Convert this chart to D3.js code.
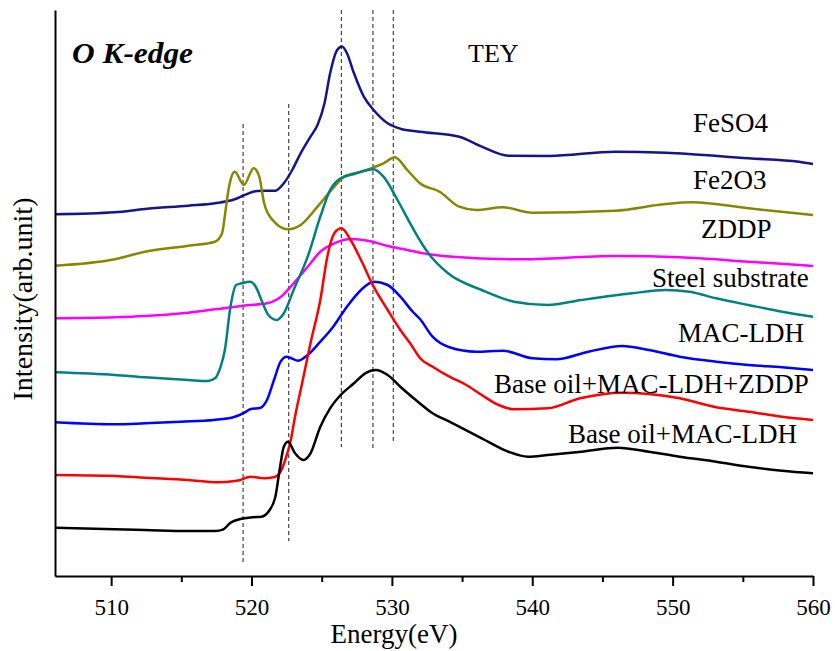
<!DOCTYPE html>
<meta charset="utf-8">
<style>
body { margin: 0; background: #fff; }
.line { fill: none; stroke-width: 2.5px; stroke-linejoin: round; }
.axis path, .axis line { stroke: #000; stroke-width: 2px; }
.lbl { font-family: "Liberation Serif", serif; font-size: 27px; fill: #000; }
</style>
<body>
<script src="https://d3js.org/d3.v7.min.js"></script>
<script>

// spectra: [energy (eV), intensity (arb. unit, stacked offset)]
var feso4 = [[506.0,361.7],[510.25,363.7],[512.4,367],[515.5,370.3],[517.4,372.7],[518.8,376.7],[519.5,381],[520.4,385],[521.7,385.3],[522.3,392.7],[522.9,406],[523.5,422.7],[524.2,439.3],[524.7,451],[525.2,472.7],[525.6,502.7],[526.1,526],[526.45,529.5],[526.8,522.7],[527.3,502.7],[528.0,479.3],[528.7,466],[529.7,452.7],[530.6,447.3],[532.0,444.3],[534.8,439.3],[536.4,429.3],[538.3,420.3],[541.2,420],[545.9,424.3],[549.5,423.3],[555.4,417.7],[559.0,414.3],[560.0,412]];

var fe2o3 = [[506.0,310.3],[510.25,316.7],[512.4,324.3],[515.5,330.3],[517.4,334.3],[517.9,342.7],[518.1,360],[518.25,376],[518.45,392.7],[518.8,404.3],[519.45,391],[520.15,407.7],[520.55,399.3],[520.9,372.7],[521.5,356],[522.6,346.7],[523.5,351],[524.7,369.3],[525.9,389.3],[526.6,399.3],[527.8,404.3],[528.7,408.7],[529.4,412.7],[530.2,418.7],[531.1,406],[532.0,392.7],[533.4,384.3],[534.8,369.3],[536.0,366],[537.9,368.7],[540.0,363.3],[545.9,365.3],[549.5,372],[551.4,373.7],[555.4,367.7],[560.0,361]];

var zddp = [[506.0,257.7],[510.25,258.7],[512.4,260],[515.5,263.3],[517.4,266.7],[519.7,270.7],[521.1,272.7],[522.1,279.3],[523.0,292.7],[524.0,309.3],[524.9,324.3],[525.9,332.7],[527.1,337],[528.3,335.3],[529.7,330],[531.1,326],[532.0,323.3],[534.3,319.3],[539.0,316.7],[545.9,320],[550.5,318.7],[555.4,314.3],[560.0,310]];

var steel = [[506.0,203.7],[510.25,201],[512.4,198.7],[515.5,196],[516.9,195],[517.4,197.7],[517.8,209.3],[518.1,226],[518.5,269.3],[518.9,291],[519.3,292.7],[519.9,294.3],[520.3,289.3],[520.8,272.7],[521.2,261],[521.8,256],[522.3,262.7],[523.0,286],[524.0,319.3],[524.9,359.3],[525.6,386],[526.35,397.7],[527.3,402],[528.3,406],[528.7,406.7],[529.4,399.3],[530.4,376],[531.3,352.7],[531.7,342.7],[532.6,322.7],[534.0,302.7],[536.4,286],[538.7,274.3],[541.1,271],[543.5,276],[547.1,282.7],[549.5,286],[551.2,284.3],[553.1,277.7],[555.4,271],[557.8,264.3],[560.0,259.3]];

var macldh = [[506.0,153.7],[510.25,151.7],[512.4,152.7],[514.95,154.3],[517.3,156],[518.7,158.7],[519.5,163.3],[519.9,166.7],[520.65,168.3],[521.1,176],[521.6,196],[522.07,214.3],[522.5,219.3],[523.3,215.3],[524.0,221],[524.9,234.3],[525.75,248],[526.8,269.3],[527.8,286],[528.7,294.3],[529.7,291],[530.6,279.3],[531.5,264],[532.0,257],[532.9,239.3],[534.1,228.7],[536.0,224.3],[537.9,225.3],[540.0,217.7],[541.7,216.7],[544.0,224.3],[546.4,230],[548.3,226],[550.5,219.3],[553.1,214.3],[555.4,211],[557.8,208.7],[560.0,206]];

var oilLdhZddp = [[506.0,101],[510.25,100],[512.4,98.3],[515.5,96],[517.6,93.7],[518.8,95],[519.2,96],[519.9,99.3],[520.9,97.7],[521.7,99.3],[522.07,104.3],[522.4,116],[522.8,136],[523.1,159.3],[523.5,186],[523.85,209.3],[524.2,232.7],[524.9,276],[525.4,319.3],[525.9,342.7],[526.4,347.7],[527.06,336],[527.8,316],[528.7,289.3],[529.7,266],[530.6,246],[531.3,232.7],[531.7,224],[532.0,218],[532.9,209.3],[534.1,199.3],[535.3,191],[536.4,181],[537.6,171],[538.7,166.7],[541.1,167.7],[543.4,177.7],[546.4,183.3],[548.3,182],[550.5,177.7],[553.1,168.7],[555.4,164.3],[557.8,159.3],[560.0,156]];

var oilLdh = [[506.0,48.3],[510.25,46.7],[512.4,46],[515.5,45],[517.4,45],[518.0,46.7],[518.5,53.3],[519.2,57],[520.1,58.7],[520.7,59.3],[521.2,64.3],[521.7,79.3],[522.0,106],[522.3,129.3],[522.6,134.3],[523.1,122.7],[523.7,116],[524.2,122.7],[524.9,149.3],[525.6,167.7],[526.35,181],[527.3,192.7],[528.1,202.7],[528.85,206],[529.7,201],[530.6,189.3],[531.7,176],[532.9,162.7],[534.1,154.3],[536.4,137.7],[538.3,124.3],[539.7,119.3],[541.1,121],[543.5,124.3],[546.1,128.3],[548.3,124.3],[550.5,119.3],[553.1,114.3],[555.4,109.3],[557.8,105.3],[560.0,102.7]];

var seriesNames = ["FeSO4", "Fe2O3", "ZDDP", "Steel substrate", "MAC-LDH", "Base oil+MAC-LDH+ZDDP", "Base oil+MAC-LDH"];
var seriesData = [feso4, fe2o3, zddp, steel, macldh, oilLdhZddp, oilLdh];
var seriesColors = ["#151585", "#868600", "#ff00ff", "#008080", "#0000ff", "#ff0000", "#000000"];

// reference energies marked with dashed lines: [energy, from, to] (intensity units)
var markers = [[519.4, 14, 452], [522.65, 35, 472], [526.4, 129, 566], [528.65, 128, 566], [530.1, 133, 566]];

var xTicks = [510, 520, 530, 540, 550, 560];
var xMinor = [515, 525, 535, 545, 555];

// label layout (pixels, baseline left)
var labelPos = [[693, 132], [693, 189], [701, 238], [652, 287], [678, 342], [494, 393], [568, 443]];

var W = 835, H = 651;
var mLeft = 55, mRight = 813, mTop = 10, mBottom = 576;

var x = d3.scaleLinear().domain([506, 560]).range([mLeft, mRight]);
var y = d3.scaleLinear().domain([0, 566]).range([mBottom, mTop]);

var svg = d3.select("body").append("svg")
    .attr("width", W)
    .attr("height", H);

// dashed reference lines
svg.selectAll(".mark")
    .data(markers)
  .enter().append("line")
    .attr("x1", function(d) { return x(d[0]); })
    .attr("x2", function(d) { return x(d[0]); })
    .attr("y1", function(d) { return y(d[2]); })
    .attr("y2", function(d) { return y(d[1]); })
    .attr("stroke", "#333")
    .attr("stroke-width", 1.1)
    .attr("stroke-dasharray", "4,3");

var line = d3.line()
    .x(function(d) { return x(d[0]); })
    .y(function(d) { return y(d[1]); })
    .curve(d3.curveMonotoneX);

seriesData.forEach(function(s, i) {
  svg.append("path")
     .datum(s)
     .attr("class", "line")
     .attr("stroke", seriesColors[i])
     .attr("d", line);
});

// x axis, major + minor ticks
var xAxis = svg.append("g")
    .attr("class", "axis")
    .attr("transform", "translate(0," + mBottom + ")")
    .call(d3.axisBottom(x).tickValues(xTicks).tickSize(10).tickSizeOuter(0).tickPadding(13).tickFormat(d3.format("d")));
xAxis.attr("font-family", null).attr("font-size", null);
xAxis.selectAll("text")
    .style("font-family", "'Liberation Serif', serif")
    .style("font-size", "23px")
    .style("fill", "#000");

svg.append("g")
    .attr("class", "axis")
    .attr("transform", "translate(0," + mBottom + ")")
    .call(d3.axisBottom(x).tickValues(xMinor).tickSize(6).tickSizeOuter(0).tickFormat(""))
    .select(".domain").remove();

// y axis: line only
svg.append("g")
    .attr("class", "axis")
    .attr("transform", "translate(" + mLeft + ",0)")
    .call(d3.axisLeft(y).tickValues([]).tickSizeOuter(0));

// axis titles
svg.append("text")
    .attr("class", "lbl")
    .attr("x", 394)
    .attr("y", 643)
    .attr("text-anchor", "middle")
    .text("Energy(eV)");

svg.append("text")
    .attr("class", "lbl")
    .attr("transform", "translate(32,299) rotate(-90)")
    .attr("text-anchor", "middle")
    .style("font-size", "28px")
    .text("Intensity(arb.unit)");

// series labels
svg.selectAll(".slabel")
    .data(seriesNames)
  .enter().append("text")
    .attr("class", "lbl")
    .attr("x", function(d, i) { return labelPos[i][0]; })
    .attr("y", function(d, i) { return labelPos[i][1]; })
    .text(function(d) { return d; });

svg.append("text")
    .attr("class", "lbl")
    .attr("x", 72)
    .attr("y", 63)
    .attr("textLength", 121)
    .attr("lengthAdjust", "spacingAndGlyphs")
    .style("font-size", "29px")
    .style("font-weight", "bold")
    .style("font-style", "italic")
    .text("O K-edge");

svg.append("text")
    .attr("class", "lbl")
    .attr("x", 468)
    .attr("y", 62)
    .style("font-size", "26px")
    .text("TEY");

</script>
</body>
